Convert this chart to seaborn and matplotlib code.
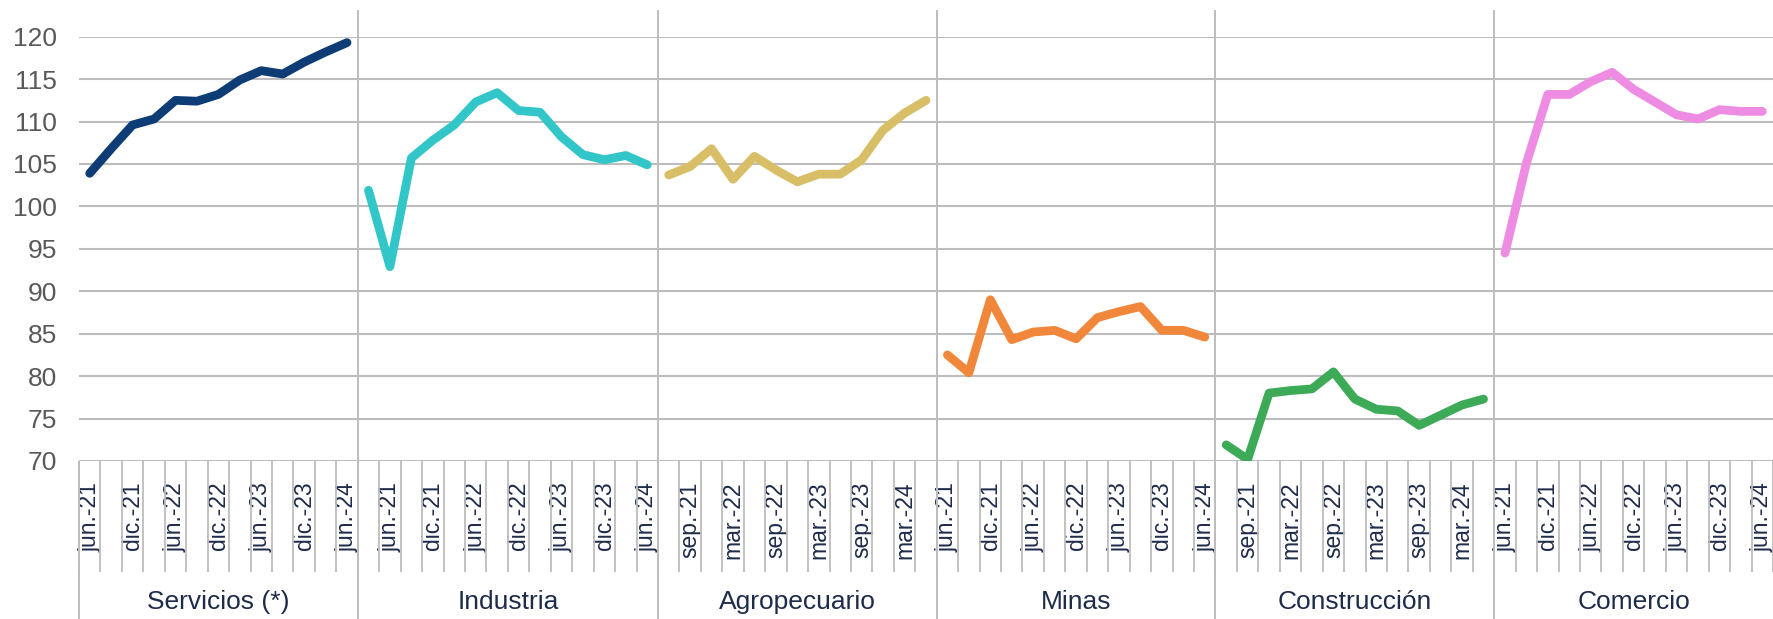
import numpy as np
import pandas as pd
import matplotlib
matplotlib.use("Agg")
import matplotlib.pyplot as plt
import matplotlib.transforms as mtransforms
import seaborn as sns

# Quarterly labels (Industria starts one quarter earlier)
quarters = ["mar.-21", "jun.-21", "sep.-21", "dic.-21",
            "mar.-22", "jun.-22", "sep.-22", "dic.-22",
            "mar.-23", "jun.-23", "sep.-23", "dic.-23",
            "mar.-24", "jun.-24"]

sectors = ["Servicios (*)", "Industria", "Agropecuario", "Minas", "Construcción", "Comercio"]

servicios = [103.9, 106.8, 109.6, 110.3, 112.5, 112.4, 113.2, 114.9, 116.0, 115.6, 117.0, 118.2, 119.3]
industria = [101.9, 92.9, 105.7, 107.8, 109.6, 112.3, 113.4, 111.3, 111.1, 108.2, 106.1, 105.5, 106.0, 104.9]
agropecuario = [103.7, 104.7, 106.8, 103.2, 105.9, 104.3, 102.9, 103.8, 103.8, 105.5, 109.0, 111.0, 112.5]
minas = [82.5, 80.4, 89.0, 84.3, 85.2, 85.4, 84.4, 86.9, 87.6, 88.2, 85.4, 85.4, 84.6]
construccion = [71.9, 70.2, 78.0, 78.3, 78.5, 80.5, 77.3, 76.1, 75.9, 74.2, 75.4, 76.6, 77.3]
comercio = [94.5, 105.1, 113.2, 113.2, 114.7, 115.8, 113.8, 112.3, 110.8, 110.3, 111.4, 111.2, 111.2]

series = [servicios, industria, agropecuario, minas, construccion, comercio]
colors = ["#0E3D75", "#33C6C8", "#D8BE66", "#F0873A", "#3DAA58", "#EE8BE3"]
yticks = [70, 75, 80, 85, 90, 95, 100, 105, 110, 115, 120]

# Build long table with one global category position per quarter
rows = []
cat_labels = []
group_bounds = []
pos = 0
for sector, vals in zip(sectors, series):
    labs = quarters[-len(vals):]
    start = pos
    for lab, v in zip(labs, vals):
        rows.append({"pos": pos, "valor": v, "sector": sector})
        cat_labels.append(lab)
        pos += 1
    group_bounds.append((start, pos))
df = pd.DataFrame(rows)
n_cat = len(cat_labels)

sns.set_style("white")
plt.rcParams["font.family"] = ["Liberation Sans", "DejaVu Sans"]

fig = plt.figure(figsize=(17.73, 6.19), dpi=100)
ax = fig.add_axes([79 / 1773, 1 - 461 / 619, 1 - 79 / 1773, (461 - 36.7) / 619])

sns.lineplot(data=df, x="pos", y="valor", hue="sector", hue_order=sectors,
             palette=colors, linewidth=6.3, legend=False, ax=ax,
             solid_capstyle="round", solid_joinstyle="round", zorder=3)

ax.set_xlim(-0.5, n_cat - 0.5)
ax.set_ylim(70, 120)
ax.set_yticks(yticks)
ax.yaxis.grid(True, color="#BDBDBD", linewidth=1.5, zorder=1)
ax.xaxis.grid(False)
for s in ax.spines.values():
    s.set_visible(False)
ax.set_xlabel("")
ax.set_ylabel("")
ax.tick_params(axis="y", length=0, pad=16, labelsize=19, labelcolor="#595959")

# every other category label, like Excel's auto skip
tick_idx = list(range(0, n_cat, 2))
ax.set_xticks(tick_idx)
ax.set_xticklabels([cat_labels[i] for i in tick_idx], rotation=90,
                   fontsize=16.5, color="#1F2B4A", va="top", ha="center")
ax.tick_params(axis="x", length=0, pad=15)

trans = mtransforms.blended_transform_factory(ax.transData, ax.transAxes)
span = 461 - 36.7
tick_bottom = -(572 - 461) / span
sep_top = (461 - 10) / span
sep_bottom = -(619 - 461) / span

# short tick lines between categories
bounds = np.arange(-0.5, n_cat, 1.0)
ax.vlines(bounds, tick_bottom, 0, transform=trans, colors="#BDBDBD",
          linewidth=1.3, clip_on=False, zorder=1)

# group separators and group names
for (start, end), name in zip(group_bounds, sectors):
    ax.text((start + end - 1) / 2, -(602 - 461) / span, name, transform=trans,
            ha="center", va="center", fontsize=19, color="#1F2B4A")
sep_x = [-0.5] + [end - 0.5 for _, end in group_bounds[:-1]]
for i, x in enumerate(sep_x):
    top = 0 if i == 0 else sep_top
    ax.vlines(x, sep_bottom, top, transform=trans, colors="#BDBDBD",
              linewidth=1.4, clip_on=False, zorder=1)

fig.savefig("out.png", dpi=100)
